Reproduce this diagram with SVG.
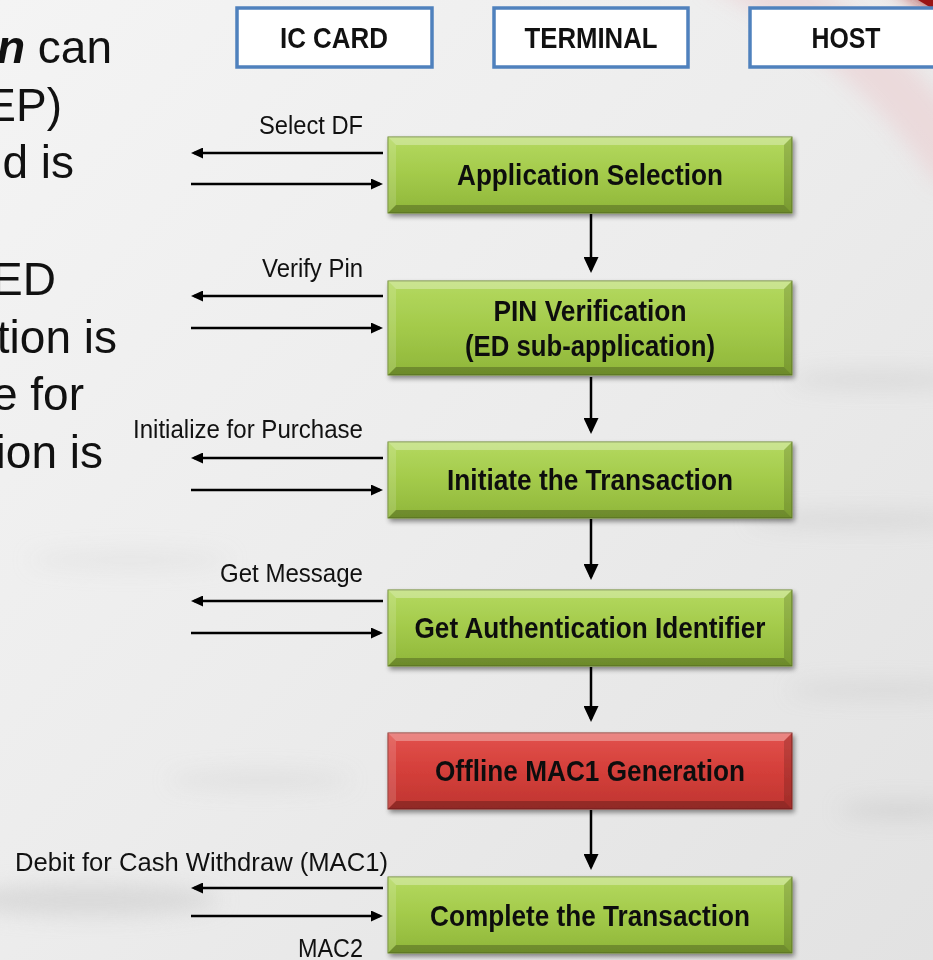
<svg xmlns="http://www.w3.org/2000/svg" xmlns:xlink="http://www.w3.org/1999/xlink" width="933" height="960" viewBox="0 0 933 960">
  <defs>
    <style>
      .body { font-family: "Liberation Sans", Arial, sans-serif; font-size: 46px; fill: #111; }
      .hdr-box { fill: #ffffff; stroke: #4f81bd; stroke-width: 3.5; }
      .hdr-txt { font-family: "Liberation Sans Narrow", "Liberation Sans", Arial, sans-serif; font-size: 29px; font-weight: bold; fill: #111; text-anchor: middle; }
      .node-txt { font-family: "Liberation Sans Narrow", "Liberation Sans", Arial, sans-serif; font-size: 30px; font-weight: bold; fill: #111; text-anchor: middle; }
      .msg-txt { font-family: "Liberation Sans Narrow", "Liberation Sans", Arial, sans-serif; font-size: 26px; fill: #111; text-anchor: end; }
      .link { stroke: #000; stroke-width: 2.5; fill: none; }
      .msg { marker-end: url(#headS); }
      .step { marker-end: url(#headL); }
      .bev-hi { fill: #ffffff; opacity: 0.3; }
      .bev-side { fill: #ffffff; opacity: 0.14; }
      .bev-lo { fill: #000000; opacity: 0.24; }
      .bev-rt { fill: #000000; opacity: 0.15; }
    </style>

    <linearGradient id="bg" x1="0" y1="0" x2="1" y2="1">
      <stop offset="0" stop-color="#f4f4f4"/>
      <stop offset="0.5" stop-color="#ececec"/>
      <stop offset="1" stop-color="#e2e2e2"/>
    </linearGradient>
    <linearGradient id="greenFill" x1="0" y1="0" x2="0" y2="1">
      <stop offset="0" stop-color="#b4d960"/>
      <stop offset="0.5" stop-color="#a3ca4a"/>
      <stop offset="1" stop-color="#8fb63a"/>
    </linearGradient>
    <linearGradient id="redFill" x1="0" y1="0" x2="0" y2="1">
      <stop offset="0" stop-color="#e2524d"/>
      <stop offset="0.5" stop-color="#d43f3a"/>
      <stop offset="1" stop-color="#bf3531"/>
    </linearGradient>

    <filter id="shadow" x="-5%" y="-10%" width="115%" height="135%">
      <feGaussianBlur in="SourceAlpha" stdDeviation="2.5"/>
      <feOffset dx="2" dy="3" result="b"/>
      <feComponentTransfer><feFuncA type="linear" slope="0.45"/></feComponentTransfer>
      <feMerge><feMergeNode/><feMergeNode in="SourceGraphic"/></feMerge>
    </filter>
    <filter id="soft" x="-50%" y="-50%" width="200%" height="200%">
      <feGaussianBlur stdDeviation="10"/>
    </filter>

    <marker id="headS" viewBox="0 0 12 11" refX="9" refY="5.5" markerWidth="12" markerHeight="11" markerUnits="userSpaceOnUse" orient="auto">
      <path d="M0,0 L12,5.5 L0,11 z" fill="#000"/>
    </marker>
    <marker id="headL" viewBox="0 0 16 15" refX="13" refY="7.5" markerWidth="16" markerHeight="15" markerUnits="userSpaceOnUse" orient="auto">
      <path d="M0,0 L16,7.5 L0,15 z" fill="#000"/>
    </marker>

    <!-- bevelled process box, 404 wide -->
    <g id="green76">
      <rect x="0" y="0" width="404" height="76" fill="url(#greenFill)" stroke="#6d8a2c" stroke-width="1"/>
      <polygon class="bev-hi" points="0,0 404,0 396,8 8,8"/>
      <polygon class="bev-side" points="0,0 8,8 8,68 0,76"/>
      <polygon class="bev-rt" points="404,0 404,76 396,68 396,8"/>
      <polygon class="bev-lo" points="0,76 404,76 396,68 8,68"/>
    </g>
    <g id="green94">
      <rect x="0" y="0" width="404" height="94" fill="url(#greenFill)" stroke="#6d8a2c" stroke-width="1"/>
      <polygon class="bev-hi" points="0,0 404,0 396,8 8,8"/>
      <polygon class="bev-side" points="0,0 8,8 8,86 0,94"/>
      <polygon class="bev-rt" points="404,0 404,94 396,86 396,8"/>
      <polygon class="bev-lo" points="0,94 404,94 396,86 8,86"/>
    </g>
    <g id="red76">
      <rect x="0" y="0" width="404" height="76" fill="url(#redFill)" stroke="#8e2a27" stroke-width="1"/>
      <polygon class="bev-hi" points="0,0 404,0 396,8 8,8"/>
      <polygon class="bev-side" points="0,0 8,8 8,68 0,76"/>
      <polygon class="bev-rt" points="404,0 404,76 396,68 396,8"/>
      <polygon class="bev-lo" points="0,76 404,76 396,68 8,68"/>
    </g>
  </defs>

  <!-- backdrop -->
  <rect x="0" y="0" width="933" height="960" fill="url(#bg)"/>
  <g id="backdrop" filter="url(#soft)">
    <path d="M720,-40 C830,20 900,80 960,170" stroke="#ebcfd1" stroke-width="55" fill="none" opacity="0.6"/>
    <path d="M890,-20 L945,-20 L945,15 Z" fill="#a01818"/>
    <ellipse cx="880" cy="380" rx="90" ry="7" fill="#c9c9c9" opacity="0.55"/>
    <ellipse cx="860" cy="520" rx="110" ry="7" fill="#c9c9c9" opacity="0.55"/>
    <ellipse cx="880" cy="690" rx="90" ry="7" fill="#c9c9c9" opacity="0.5"/>
    <ellipse cx="900" cy="810" rx="60" ry="8" fill="#c4c4c4" opacity="0.55"/>
    <ellipse cx="90" cy="900" rx="130" ry="16" fill="#cfcfcf" opacity="0.65"/>
    <ellipse cx="260" cy="780" rx="90" ry="9" fill="#d2d2d2" opacity="0.45"/>
    <ellipse cx="130" cy="560" rx="100" ry="9" fill="#dcdcdc" opacity="0.45"/>
  </g>
  <path d="M918,0 L933,0 L933,9 Z" fill="#9a1414"/>

  <!-- left column text -->
  <g id="bullet-text" class="body" text-anchor="end">
    <text x="112" y="63"><tspan font-weight="bold" font-style="italic">n</tspan> can</text>
    <text x="62" y="121">EP)</text>
    <text x="74" y="178">d is</text>
    <text x="56" y="295">ED</text>
    <text x="117" y="353">tion is</text>
    <text x="84" y="410">e for</text>
    <text x="103" y="468">ion is</text>
  </g>

  <!-- lane headers -->
  <g id="lane-ic-card">
    <rect class="hdr-box" x="237" y="8" width="195" height="59"/>
    <text class="hdr-txt" x="334" y="48" textLength="108" lengthAdjust="spacingAndGlyphs">IC CARD</text>
  </g>
  <g id="lane-terminal">
    <rect class="hdr-box" x="494" y="8" width="194" height="59"/>
    <text class="hdr-txt" x="591" y="48" textLength="133" lengthAdjust="spacingAndGlyphs">TERMINAL</text>
  </g>
  <g id="lane-host">
    <rect class="hdr-box" x="750" y="8" width="195" height="59"/>
    <text class="hdr-txt" x="846" y="48" textLength="69" lengthAdjust="spacingAndGlyphs">HOST</text>
  </g>

  <!-- process steps -->
  <g id="step-app-selection" transform="translate(388,137)" filter="url(#shadow)">
    <use xlink:href="#green76"/>
    <text class="node-txt" x="202" y="48" textLength="266" lengthAdjust="spacingAndGlyphs">Application Selection</text>
  </g>
  <g id="step-pin-verification" transform="translate(388,281)" filter="url(#shadow)">
    <use xlink:href="#green94"/>
    <text class="node-txt" x="202" y="40" textLength="193" lengthAdjust="spacingAndGlyphs">PIN Verification</text>
    <text class="node-txt" x="202" y="75" textLength="250" lengthAdjust="spacingAndGlyphs">(ED sub-application)</text>
  </g>
  <g id="step-initiate" transform="translate(388,442)" filter="url(#shadow)">
    <use xlink:href="#green76"/>
    <text class="node-txt" x="202" y="48" textLength="286" lengthAdjust="spacingAndGlyphs">Initiate the Transaction</text>
  </g>
  <g id="step-get-auth-id" transform="translate(388,590)" filter="url(#shadow)">
    <use xlink:href="#green76"/>
    <text class="node-txt" x="202" y="48" textLength="351" lengthAdjust="spacingAndGlyphs">Get Authentication Identifier</text>
  </g>
  <g id="step-offline-mac1" transform="translate(388,733)" filter="url(#shadow)">
    <use xlink:href="#red76"/>
    <text class="node-txt" x="202" y="48" textLength="310" lengthAdjust="spacingAndGlyphs">Offline MAC1 Generation</text>
  </g>
  <g id="step-complete" transform="translate(388,877)" filter="url(#shadow)">
    <use xlink:href="#green76"/>
    <text class="node-txt" x="202" y="49" textLength="320" lengthAdjust="spacingAndGlyphs">Complete the Transaction</text>
  </g>

  <!-- connectors -->
  <g id="connectors">
    <!-- step to step -->
    <line class="link step" x1="591" y1="214" x2="591" y2="270"/>
    <line class="link step" x1="591" y1="377" x2="591" y2="431"/>
    <line class="link step" x1="591" y1="519" x2="591" y2="577"/>
    <line class="link step" x1="591" y1="667" x2="591" y2="719"/>
    <line class="link step" x1="591" y1="810" x2="591" y2="867"/>

    <!-- card commands and responses -->
    <line class="link msg" x1="383" y1="153" x2="194" y2="153"/>
    <line class="link msg" x1="191" y1="184" x2="380" y2="184"/>
    <line class="link msg" x1="383" y1="296" x2="194" y2="296"/>
    <line class="link msg" x1="191" y1="328" x2="380" y2="328"/>
    <line class="link msg" x1="383" y1="458" x2="194" y2="458"/>
    <line class="link msg" x1="191" y1="490" x2="380" y2="490"/>
    <line class="link msg" x1="383" y1="601" x2="194" y2="601"/>
    <line class="link msg" x1="191" y1="633" x2="380" y2="633"/>
    <line class="link msg" x1="383" y1="888" x2="194" y2="888"/>
    <line class="link msg" x1="191" y1="916" x2="380" y2="916"/>

    <text class="msg-txt" x="363" y="134" textLength="104" lengthAdjust="spacingAndGlyphs">Select DF</text>
    <text class="msg-txt" x="363" y="277" textLength="101" lengthAdjust="spacingAndGlyphs">Verify Pin</text>
    <text class="msg-txt" x="363" y="438" textLength="230" lengthAdjust="spacingAndGlyphs">Initialize for Purchase</text>
    <text class="msg-txt" x="363" y="582" textLength="143" lengthAdjust="spacingAndGlyphs">Get Message</text>
    <text class="msg-txt" x="388" y="871" textLength="373" lengthAdjust="spacingAndGlyphs">Debit for Cash Withdraw (MAC1)</text>
    <text class="msg-txt" x="363" y="957" textLength="65" lengthAdjust="spacingAndGlyphs">MAC2</text>
  </g>
</svg>
